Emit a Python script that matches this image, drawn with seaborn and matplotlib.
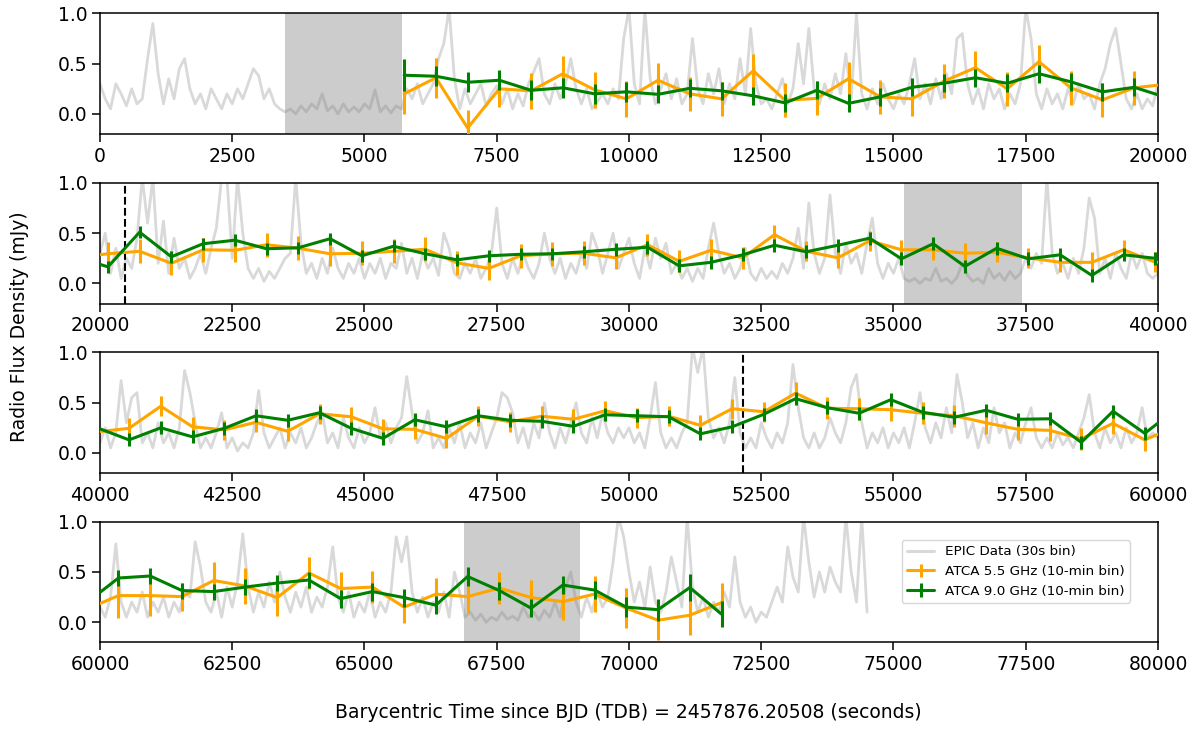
import numpy as np
import matplotlib
matplotlib.use("Agg")
import matplotlib.pyplot as plt
import seaborn as sns
from matplotlib.lines import Line2D

# ---------------- EPIC data (30s bin), every 100 s ----------------
epic_step = 100
epic_p1 = [0.30, 0.15, 0.05, 0.30, 0.20, 0.08, 0.25, 0.10, 0.15, 0.55,
           0.90, 0.40, 0.10, 0.35, 0.15, 0.45, 0.55, 0.25, 0.10, 0.20,
           0.05, 0.25, 0.15, 0.05, 0.20, 0.10, 0.25, 0.15, 0.30, 0.45,
           0.38, 0.15, 0.25, 0.10, 0.05, 0.02, 0.05, 0.00, 0.08, 0.02,
           0.10, 0.05, 0.20, 0.03, 0.08, 0.00, 0.10, 0.02, 0.07, 0.02,
           0.10, 0.05, 0.24, 0.02, 0.08, 0.01, 0.08, 0.05, 0.25, 0.15,
           0.30, 0.10, 0.20, 0.30, 0.55, 0.70, 1.05, 0.35, 0.05, 0.25,
           0.10, 0.20, 0.30, 0.08, 0.20, 0.28, 0.10, 0.25, 0.05, 0.20,
           0.08, 0.30, 0.42, 0.55, 0.20, 0.10, 0.30, 0.15, 0.30, 0.55,
           0.25, 0.10, 0.25, 0.05, 0.12, 0.20, 0.10, 0.25, 0.15, 0.75,
           1.05, 0.30, 0.10, 1.05, 0.35, 0.10, 0.25, 0.40, 0.15, 0.35,
           0.10, 0.20, 0.75, 0.25, 0.10, 0.40, 0.20, 0.45, 0.10, 0.30,
           0.15, 0.55, 0.20, 0.85, 0.30, 0.10, 0.15, 0.05, 0.20, 0.35,
           0.10, 0.25, 0.70, 0.30, 0.85, 0.25, 0.10, 0.30, 0.15, 0.40,
           0.20, 0.60, 0.15, 1.00, 0.20, 0.05, 0.25, 0.10, 0.30, 0.15,
           0.05, 0.20, 0.10, 0.30, 0.55, 0.15, 0.30, 0.10, 0.35, 0.15,
           0.40, 0.20, 0.75, 0.80, 0.30, 0.10, 0.25, 0.05, 0.30, 0.15,
           0.25, 0.05, 0.20, 0.10, 0.30, 1.05, 0.75, 0.20, 0.05, 0.25,
           0.10, 0.20, 0.05, 0.25, 0.10, 0.30, 0.15, 0.20, 0.05, 0.30,
           0.45, 0.70, 0.85, 0.50, 0.15, 0.05, 0.20, 0.05, 0.15, 0.08]
epic_p2 = [0.30, 0.50, 0.10, 0.35, 0.05, 0.25, 0.15, 0.45, 1.05, 0.60,
           1.05, 0.20, 0.62, 0.10, 0.45, 0.15, 0.25, 0.05, 0.15, 0.30,
           0.10, 0.35, 0.55, 1.05, 1.05, 0.25, 1.05, 0.50, 0.15, 0.05,
           0.15, 0.02, 0.12, 0.05, 0.15, 0.25, 0.30, 1.05, 0.40, 0.10,
           0.20, 0.05, 0.25, 0.10, 0.35, 0.15, 0.05, 0.20, 0.10, 0.25,
           0.05, 0.20, 0.10, 0.25, 0.05, 0.20, 0.15, 0.40, 0.10, 0.25,
           0.05, 0.30, 0.15, 0.25, 0.08, 0.50, 0.35, 0.10, 0.05, 0.20,
           0.10, 0.25, 0.05, 0.15, 0.30, 0.75, 0.20, 0.05, 0.25, 0.10,
           0.30, 0.15, 0.05, 0.20, 0.50, 0.25, 0.10, 0.25, 0.05, 0.20,
           0.10, 0.30, 0.15, 0.50, 0.35, 0.10, 0.30, 0.50, 0.15, 0.30,
           0.45, 0.20, 0.05, 0.35, 0.15, 0.45, 0.25, 0.40, 0.10, 0.20,
           0.05, 0.15, 0.02, 0.15, 0.05, 0.35, 0.60, 0.30, 0.10, 0.20,
           0.05, 0.15, 0.35, 0.10, 0.03, 0.15, 0.05, 0.12, 0.05, 0.20,
           0.10, 0.25, 0.55, 0.15, 0.80, 0.30, 0.10, 0.25, 0.88, 0.30,
           0.10, 0.40, 0.20, 0.30, 0.10, 0.40, 0.65, 0.20, 0.05, 0.20,
           0.10, 0.25, 0.05, 0.02, 0.05, 0.00, 0.05, 0.03, 0.15, 0.02,
           0.05, 0.00, 0.06, 0.20, 0.08, 0.02, 0.05, 0.00, 0.15, 0.05,
           0.10, 0.03, 0.12, 0.05, 0.10, 0.25, 0.15, 0.30, 0.20, 1.05,
           0.30, 0.10, 0.20, 0.05, 0.25, 0.10, 0.35, 0.85, 0.65, 0.10,
           0.25, 0.05, 0.30, 0.15, 0.05, 0.30, 0.15, 0.30, 0.10, 0.05]
epic_p3 = [0.10, 0.25, 0.05, 0.20, 0.72, 0.30, 0.55, 0.60, 0.10, 0.20,
           0.05, 0.30, 0.10, 0.20, 0.05, 0.25, 0.82, 0.60, 0.30, 0.05,
           0.15, 0.05, 0.20, 0.40, 0.05, 0.15, 0.02, 0.10, 0.05, 0.20,
           0.62, 0.20, 0.05, 0.15, 0.25, 0.05, 0.20, 0.10, 0.25, 0.05,
           0.15, 0.30, 0.40, 0.10, 0.20, 0.05, 0.35, 0.15, 0.05, 0.25,
           0.10, 0.20, 0.45, 0.15, 0.30, 0.10, 0.25, 0.35, 0.76, 0.40,
           0.10, 0.20, 0.42, 0.05, 0.15, 0.05, 0.25, 0.10, 0.30, 0.05,
           0.20, 0.10, 0.30, 0.05, 0.20, 0.35, 0.60, 0.55, 0.40, 0.10,
           0.25, 0.05, 0.30, 0.15, 0.50, 0.20, 0.05, 0.25, 0.10, 0.30,
           0.50, 0.20, 0.10, 0.35, 0.15, 0.40, 0.20, 0.10, 0.25, 0.15,
           0.25, 0.10, 0.20, 0.05, 0.35, 0.70, 0.20, 0.05, 0.15, 0.05,
           0.20, 0.30, 1.05, 0.80, 1.05, 0.35, 0.15, 0.25, 0.10, 0.30,
           0.75, 0.20, 0.05, 0.15, 0.05, 0.30, 0.15, 0.05, 0.20, 0.10,
           0.30, 0.88, 0.45, 0.15, 0.05, 0.20, 0.05, 0.15, 0.35, 0.20,
           0.10, 0.30, 0.65, 0.78, 0.30, 0.05, 0.20, 0.10, 0.25, 0.05,
           0.20, 0.10, 0.25, 0.05, 0.30, 0.60, 0.25, 0.10, 0.30, 0.15,
           0.45, 0.20, 0.78, 0.50, 0.15, 0.30, 0.05, 0.25, 0.10, 0.45,
           0.20, 0.30, 0.05, 0.20, 0.10, 0.30, 0.45, 0.15, 0.05, 0.15,
           0.05, 0.20, 0.08, 0.15, 0.05, 0.20, 0.35, 0.58, 0.20, 0.05,
           0.25, 0.10, 0.20, 0.05, 0.25, 0.10, 0.20, 0.45, 0.15, 0.20]
epic_p4 = [0.15, 0.05, 0.25, 0.78, 0.20, 0.05, 0.20, 0.10, 0.30, 0.05,
           0.20, 0.10, 0.25, 0.05, 0.20, 0.10, 0.30, 0.25, 0.80, 0.55,
           0.20, 0.10, 0.30, 0.05, 0.35, 0.15, 0.40, 0.88, 0.35, 0.10,
           0.30, 0.15, 0.40, 0.20, 0.50, 0.25, 0.10, 0.30, 0.15, 0.35,
           0.10, 0.25, 0.15, 0.35, 0.75, 0.25, 0.10, 0.30, 0.05, 0.20,
           0.10, 0.30, 0.05, 0.20, 0.10, 0.30, 0.85, 0.60, 0.85, 0.30,
           0.10, 0.25, 0.05, 0.20, 0.10, 0.30, 0.05, 0.50, 0.30, 0.05,
           0.10, 0.02, 0.08, 0.00, 0.05, 0.02, 0.10, 0.03, 0.06, 0.02,
           0.15, 0.05, 0.10, 0.02, 0.12, 0.05, 0.20, 0.05, 0.35, 0.50,
           0.20, 0.05, 0.25, 0.10, 0.30, 0.15, 0.25, 0.60, 1.05, 0.85,
           0.50, 0.20, 0.40, 0.15, 0.55, 0.20, 0.10, 0.30, 0.65, 0.40,
           0.15, 1.05, 0.35, 0.10, 0.25, 0.05, 0.20, 0.10, 0.30, 0.15,
           0.65, 0.20, 0.05, 0.15, 0.00, 0.10, 0.05, 0.20, 0.35, 0.20,
           0.75, 0.45, 0.30, 1.05, 0.60, 0.25, 0.50, 0.30, 0.55, 0.40,
           0.30, 1.05, 0.50, 0.20, 1.05, 0.10]
epic_flux = np.array(epic_p1 + epic_p2 + epic_p3 + epic_p4)
epic_time = np.arange(len(epic_flux)) * epic_step

# ---------------- ATCA data (10-min bins) ----------------
radio_time = [5750, 6350, 6950, 7550, 8150, 8750, 9350, 9950, 10550, 11150,
              11750, 12350, 12950, 13550, 14150, 14750, 15350, 15950, 16550, 17150,
              17750, 18350, 18950, 19550, 20150, 20750, 21350, 21950, 22550, 23150,
              23750, 24350, 24950, 25550, 26150, 26750, 27350, 27950, 28550, 29150,
              29750, 30350, 30950, 31550, 32150, 32750, 33350, 33950, 34550, 35150,
              35750, 36350, 36950, 37550, 38150, 38750, 39350, 39950, 40550, 41150,
              41750, 42350, 42950, 43550, 44150, 44750, 45350, 45950, 46550, 47150,
              47750, 48350, 48950, 49550, 50150, 50750, 51350, 51950, 52550, 53150,
              53750, 54350, 54950, 55550, 56150, 56750, 57350, 57950, 58550, 59150,
              59750, 60350, 60950, 61550, 62150, 62750, 63350, 63950, 64550, 65150,
              65750, 66350, 66950, 67550, 68150, 68750, 69350, 69950, 70550, 71150,
              71750]
flux_55 = [0.20, 0.36, -0.14, 0.25, 0.23, 0.40, 0.24, 0.15, 0.335, 0.20,
           0.15, 0.43, 0.135, 0.155, 0.35, 0.17, 0.15, 0.325, 0.46, 0.25,
           0.52, 0.26, 0.14, 0.26, 0.295,
           0.32, 0.20, 0.335, 0.33, 0.385, 0.35, 0.295, 0.30, 0.32, 0.34,
           0.205, 0.15, 0.275, 0.295, 0.30, 0.255, 0.385, 0.22, 0.33, 0.255,
           0.485, 0.32, 0.255, 0.425, 0.335, 0.335, 0.30, 0.31, 0.255, 0.21,
           0.21, 0.335, 0.21,
           0.245, 0.465, 0.26, 0.23, 0.305, 0.215, 0.39, 0.36, 0.24, 0.235,
           0.145, 0.365, 0.31, 0.365, 0.335, 0.42, 0.35, 0.365, 0.275, 0.44,
           0.41, 0.595, 0.445, 0.44, 0.43, 0.395, 0.37, 0.30, 0.235, 0.225,
           0.14, 0.295, 0.13,
           0.265, 0.265, 0.255, 0.415, 0.36, 0.245, 0.49, 0.335, 0.35, 0.15,
           0.28, 0.255, 0.34, 0.245, 0.205, 0.28, 0.14, 0.02, 0.07, 0.195]
err_55 = [0.20, 0.20, 0.18, 0.18, 0.18, 0.18, 0.18, 0.18, 0.17, 0.17,
          0.17, 0.17, 0.17, 0.17, 0.17, 0.17, 0.17, 0.17, 0.17, 0.17,
          0.17, 0.17, 0.17, 0.17, 0.12,
          0.12, 0.12, 0.12, 0.12, 0.12, 0.12, 0.12, 0.12, 0.12, 0.12,
          0.12, 0.12, 0.12, 0.12, 0.12, 0.11, 0.11, 0.11, 0.11, 0.11,
          0.10, 0.10, 0.10, 0.10, 0.10, 0.10, 0.10, 0.10, 0.10, 0.10,
          0.10, 0.10, 0.10,
          0.10, 0.10, 0.10, 0.10, 0.10, 0.10, 0.10, 0.10, 0.10, 0.10,
          0.10, 0.10, 0.10, 0.10, 0.10, 0.10, 0.10, 0.10, 0.10, 0.10,
          0.10, 0.11, 0.11, 0.11, 0.11, 0.11, 0.11, 0.11, 0.11, 0.11,
          0.11, 0.11, 0.11,
          0.22, 0.20, 0.14, 0.18, 0.18, 0.18, 0.16, 0.16, 0.16, 0.16,
          0.16, 0.16, 0.16, 0.18, 0.18, 0.18, 0.20, 0.20, 0.20, 0.20]
flux_90 = [0.385, 0.375, 0.315, 0.335, 0.235, 0.26, 0.20, 0.22, 0.195, 0.255,
           0.23, 0.18, 0.11, 0.235, 0.105, 0.17, 0.265, 0.305, 0.36, 0.305,
           0.40, 0.32, 0.22, 0.265, 0.165,
           0.51, 0.265, 0.395, 0.43, 0.345, 0.355, 0.445, 0.275, 0.37, 0.295,
           0.235, 0.275, 0.29, 0.295, 0.315, 0.34, 0.36, 0.175, 0.21, 0.285,
           0.38, 0.315, 0.38, 0.45, 0.245, 0.395, 0.17, 0.35, 0.245, 0.285,
           0.08, 0.285, 0.25,
           0.13, 0.25, 0.16, 0.245, 0.37, 0.325, 0.40, 0.245, 0.145, 0.33,
           0.26, 0.37, 0.325, 0.315, 0.265, 0.38, 0.37, 0.36, 0.19, 0.26,
           0.385, 0.54, 0.45, 0.395, 0.53, 0.405, 0.355, 0.425, 0.335, 0.34,
           0.105, 0.415, 0.195,
           0.44, 0.46, 0.315, 0.305, 0.35, 0.39, 0.42, 0.235, 0.305, 0.245,
           0.17, 0.455, 0.315, 0.14, 0.37, 0.32, 0.15, 0.125, 0.345, 0.08]
err_90 = [0.16, 0.10, 0.10, 0.10, 0.10, 0.10, 0.10, 0.10, 0.09, 0.09,
          0.09, 0.09, 0.09, 0.09, 0.09, 0.09, 0.09, 0.09, 0.09, 0.09,
          0.09, 0.09, 0.09, 0.09, 0.06,
          0.06, 0.06, 0.06, 0.06, 0.06, 0.06, 0.06, 0.06, 0.06, 0.06,
          0.06, 0.06, 0.06, 0.06, 0.06, 0.065, 0.065, 0.065, 0.065, 0.065,
          0.065, 0.065, 0.065, 0.065, 0.065, 0.065, 0.065, 0.065, 0.065, 0.065,
          0.065, 0.065, 0.065,
          0.065, 0.065, 0.065, 0.065, 0.065, 0.065, 0.065, 0.065, 0.065, 0.065,
          0.065, 0.065, 0.065, 0.065, 0.065, 0.065, 0.065, 0.065, 0.065, 0.065,
          0.065, 0.065, 0.065, 0.065, 0.065, 0.065, 0.065, 0.065, 0.065, 0.065,
          0.065, 0.065, 0.065,
          0.08, 0.08, 0.08, 0.08, 0.08, 0.08, 0.08, 0.09, 0.09, 0.09,
          0.09, 0.09, 0.09, 0.09, 0.09, 0.09, 0.10, 0.11, 0.13, 0.13]

# ---------------- annotations ----------------
panel_starts = [0, 20000, 40000, 60000]
panel_span = 20000
shaded_spans = [(3500, 5700), (35200, 37430), (66880, 69070)]
dashed_times = [20470, 52160]
labels = ["EPIC Data (30s bin)", "ATCA 5.5 GHz (10-min bin)", "ATCA 9.0 GHz (10-min bin)"]

sns.set_style("ticks", rc={"axes.edgecolor": "black", "xtick.color": "black",
                           "ytick.color": "black", "text.color": "black",
                           "axes.labelcolor": "black"})
plt.rcParams['font.family'] = ['DejaVu Sans']

fig = plt.figure(figsize=(12, 7.3), dpi=100)
bottoms = [0.8164, 0.5842, 0.3520, 0.1201]
FS = 13.5
GRAY = '#d9d9d9'

for i, x0 in enumerate(panel_starts):
    ax = fig.add_axes([0.0833, bottoms[i], 0.8817, 0.1652])
    sns.lineplot(x=epic_time, y=epic_flux, ax=ax, color=GRAY, lw=2.0,
                 estimator=None, sort=False, legend=False, zorder=1)
    for s0, s1 in shaded_spans:
        ax.axvspan(s0, s1, color='gray', alpha=0.4, lw=0, zorder=2)
    for d in dashed_times:
        ax.axvline(d, color='black', ls='--', lw=1.5, zorder=2.5)
    eb1 = ax.errorbar(radio_time, flux_55, yerr=err_55, color='orange', lw=2.2,
                      elinewidth=2.2, capsize=0, zorder=3)
    eb2 = ax.errorbar(radio_time, flux_90, yerr=err_90, color='green', lw=2.2,
                      elinewidth=2.2, capsize=0, zorder=4)
    ax.set_xlim(x0, x0 + panel_span)
    ax.set_ylim(-0.2, 1.0)
    ax.set_xticks(np.arange(x0, x0 + panel_span + 1, 2500))
    ax.set_yticks([0.0, 0.5, 1.0])
    ax.set_xlabel("")
    ax.set_ylabel("")
    ax.tick_params(labelsize=FS, length=5.5, width=1.1, direction='out')
    for sp in ax.spines.values():
        sp.set_linewidth(1.1)
    if i == 3:
        gh = Line2D([], [], color=GRAY, lw=2.2)
        ax.legend([gh, eb1, eb2], labels, loc='center right',
                  bbox_to_anchor=(0.9735, 0.587), borderaxespad=0,
                  fontsize=9.7, frameon=True)

fig.text(0.016, 1 - 327 / 730, "Radio Flux Density (mJy)", rotation=90,
         ha='center', va='center', fontsize=FS)
fig.text(0.524, 1 - 713 / 730,
         "Barycentric Time since BJD (TDB) = 2457876.20508 (seconds)",
         ha='center', va='center', fontsize=FS)

fig.savefig("out.png", dpi=100)
